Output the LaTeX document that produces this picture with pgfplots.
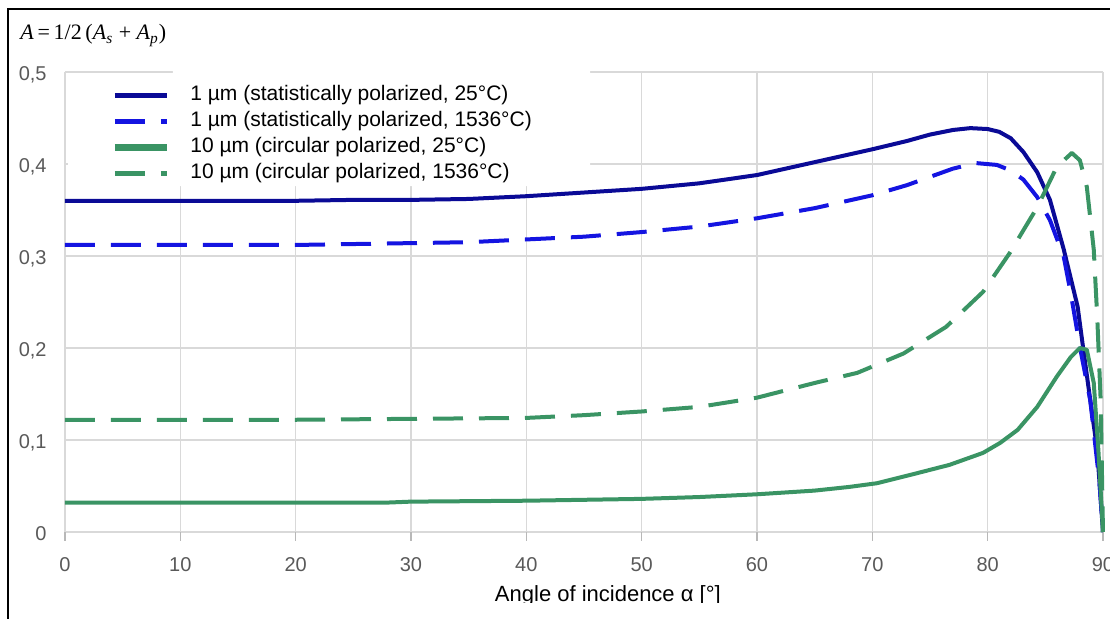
\documentclass[border=0pt]{standalone}
\usepackage{pgfplots}
\pgfplotsset{compat=1.18}
\usepackage{fontspec}
\setmainfont{Liberation Sans}
\newfontfamily\tnr{Liberation Serif}

\definecolor{navyline}{RGB}{10,10,150}
\definecolor{blueline}{RGB}{20,20,225}
\definecolor{greenline}{RGB}{58,148,100}
\definecolor{gridc}{RGB}{217,217,217}
\definecolor{tickc}{RGB}{89,89,89}

\begin{document}
\begin{tikzpicture}
\useasboundingbox (0,0) rectangle (555pt,-309.5pt);
\clip (0,0) rectangle (555pt,-309.5pt);

\begin{axis}[
    at={(32.5pt,-266pt)}, anchor=south west,
    scale only axis, width=519pt, height=230pt,
    xmin=0, xmax=90, ymin=0, ymax=0.5,
    clip=false,
    xtick={0,10,20,30,40,50,60,70,80,90},
    ytick={0,0.1,0.2,0.3,0.4,0.5},
    grid=major,
    grid style={gridc, line width=0.7pt},
    axis line style={draw=none},
    tick align=outside,
    xtick pos=bottom, ytick pos=left,
    major tick length=4.5pt,
    xtick style={gridc!85!black, line width=0.7pt},
    ytick style={draw=none},
    /pgf/number format/assume math mode=true,
    /pgf/number format/.cd, fixed, precision=1, use comma,
    /pgfplots/.cd,
    ticklabel style={font=\fontsize{10}{12}\selectfont, text=tickc, inner sep=0pt},
    xticklabel style={anchor=base, yshift=-15.5pt},
    yticklabel style={anchor=base east, xshift=-4.5pt, yshift=-4.3pt},
    xlabel={Angle of incidence α [°]},
    xlabel style={at={(axis description cs:0.523,0)}, anchor=base, yshift=-35pt,
        inner sep=0pt, font=\fontsize{11}{13}\selectfont},
    legend style={at={(axis description cs:0.0443,0.971)}, anchor=north west,
        draw=none, fill=none, inner sep=0pt, row sep=2.9pt,
        font=\fontsize{10.5}{12}\selectfont,
        nodes={inner sep=0pt, text height=7.6pt, text depth=2.4pt},
        /tikz/every odd column/.append style={column sep=10pt}},
    legend cell align=left,
    legend image code/.code={\draw[#1] (0pt,0pt) -- (26pt,0pt);},
]

% white area behind the legend
\fill[white] (rel axis cs:0.0029,0.9957) -- (rel axis cs:0.104,0.9957)
    -- (rel axis cs:0.104,1.004) -- (rel axis cs:0.506,1.004)
    -- (rel axis cs:0.506,0.752) -- (rel axis cs:0.0029,0.752) -- cycle;

\addplot[navyline, line width=2pt, line join=round,
    legend image post style={line width=2.6pt}]
coordinates {
 (0,0.360) (10,0.360) (20,0.360) (25,0.361) (30,0.361) (35,0.362) (40,0.365)
 (45,0.369) (50,0.373) (55,0.379) (60,0.388) (65,0.402) (70,0.416) (73,0.425)
 (75,0.432) (77,0.437) (78.5,0.439) (80,0.438) (81,0.435) (82,0.428)
 (83.1,0.413) (84.3,0.391) (85.4,0.361) (86.6,0.307) (87.8,0.245) (88.3,0.198)
 (88.9,0.143) (89.5,0.089) (90,0.0)};
\addlegendentry{1 µm (statistically polarized, 25°C)}

\addplot[blueline, line width=2pt, line join=round, dash pattern=on 15pt off 8pt,
    legend image post style={line width=2.6pt}]
coordinates {
 (0,0.312) (10,0.312) (20,0.312) (25,0.313) (30,0.314) (35,0.315) (40,0.318)
 (45,0.321) (50,0.326) (55,0.332) (60,0.341) (65,0.352) (70,0.366) (73,0.377)
 (75,0.386) (77,0.395) (79,0.401) (80.8,0.399) (82,0.393) (83.1,0.383)
 (84.3,0.364) (85.4,0.339) (86.6,0.299) (87.2,0.260) (88.0,0.201) (88.9,0.143)
 (89.7,0.053) (90,0.0)};
\addlegendentry{1 µm (statistically polarized, 1536°C)}

\addplot[greenline, line width=2pt, line join=round,
    legend image post style={line width=3.5pt}]
coordinates {
 (0,0.032) (10,0.032) (20,0.032) (28,0.032) (30,0.033) (40,0.034) (45,0.035)
 (50,0.036) (55,0.038) (60,0.041) (65,0.045) (68,0.049) (70.4,0.053)
 (73.9,0.064) (76.7,0.073) (79.6,0.086) (81.1,0.097) (82.6,0.111) (84.3,0.136)
 (86.0,0.169) (87.2,0.190) (88.0,0.200) (88.6,0.198) (89.2,0.162) (89.6,0.089)
 (90,0.0)};
\addlegendentry{10 µm (circular polarized, 25°C)}

\addplot[greenline, line width=2pt, line join=round, dash pattern=on 15pt off 8pt,
    legend image post style={line width=2.6pt}]
coordinates {
 (0,0.122) (10,0.122) (20,0.122) (30,0.123) (40,0.124) (45,0.127) (50,0.131)
 (55,0.136) (60,0.146) (65,0.162) (68.7,0.173) (72.7,0.194) (76.4,0.223)
 (79.6,0.261) (81.9,0.303) (84.3,0.353) (86.0,0.397) (87.3,0.412) (88.0,0.404)
 (88.6,0.375) (89.2,0.307) (89.5,0.234) (89.8,0.143) (90,0.0)};
\addlegendentry{10 µm (circular polarized, 1536°C)}
\end{axis}

% the screenshot is cut below the axis title
\fill[white] (0,-301.5pt) rectangle (560pt,-312pt);
% outer frame
\draw[line width=1.2pt] (4pt,-315pt) -- (4pt,-4.5pt) -- (560pt,-4.5pt);

\node[anchor=base west, inner sep=0pt, font=\tnr\fontsize{11}{13}\selectfont]
  at (10pt,-20pt)
  {\textit{A}\,=\,1/2\,(\textit{A}\textsubscript{\textit{s}} + \textit{A}\textsubscript{\textit{p}})};
\end{tikzpicture}
\end{document}
